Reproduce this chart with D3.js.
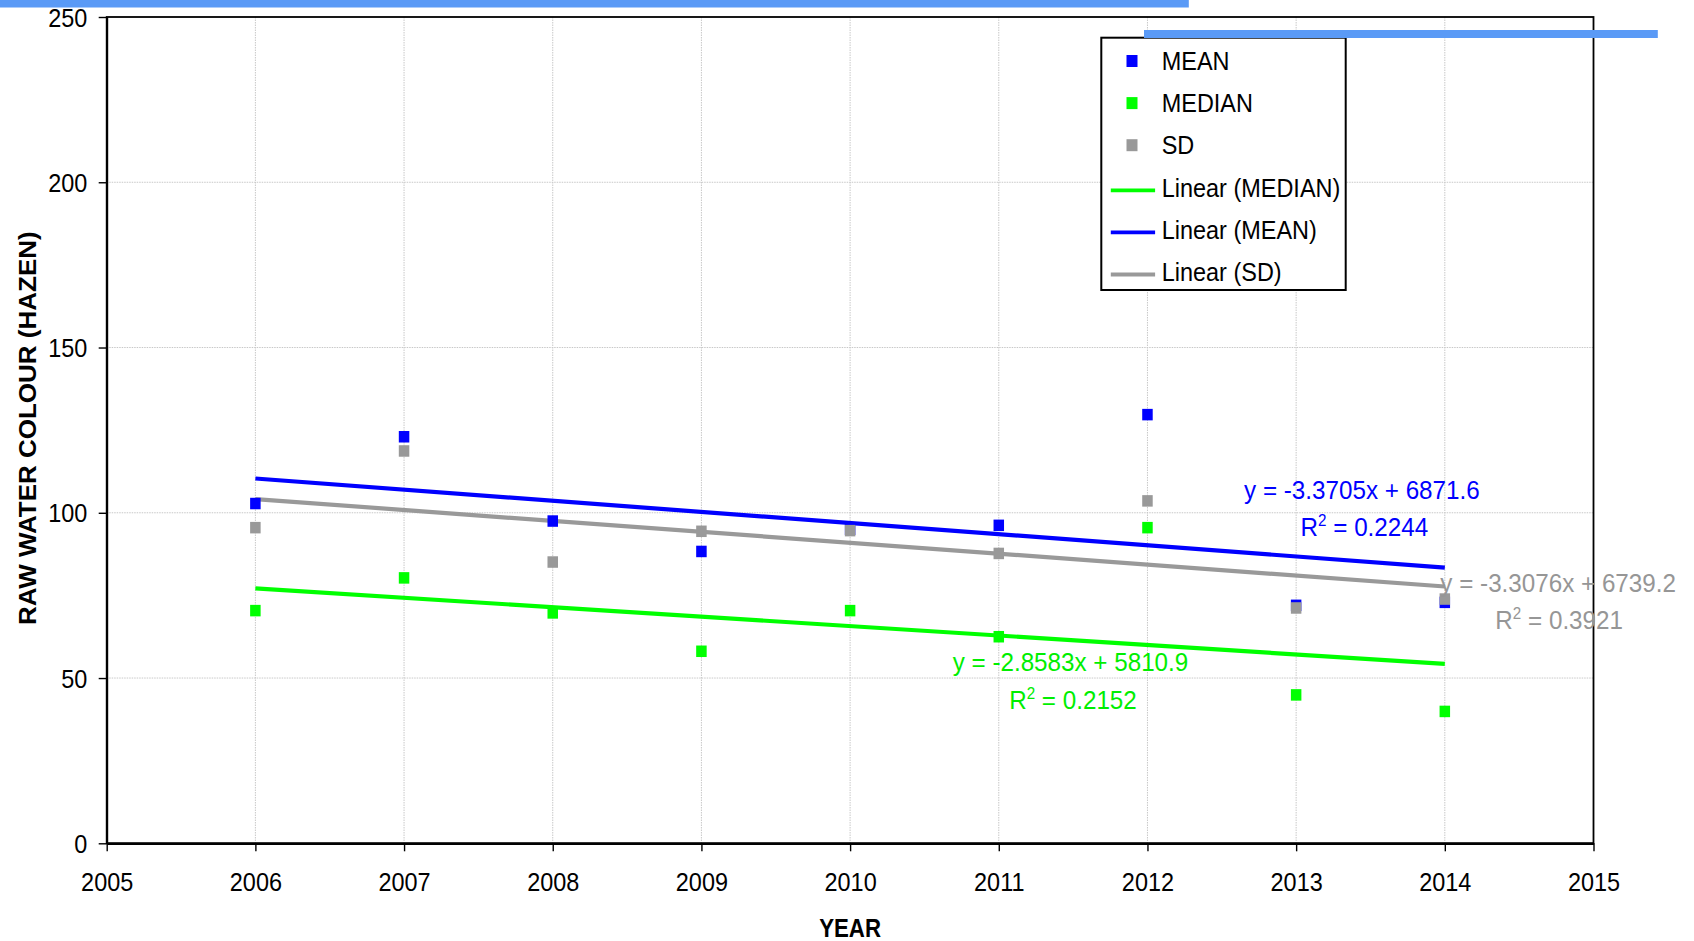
<!DOCTYPE html>
<html>
<head>
<meta charset="utf-8">
<script src="https://cdn.jsdelivr.net/npm/d3@7"></script>
<style>
  html, body { margin: 0; padding: 0; background: #ffffff; }
  svg { display: block; }
  text { font-family: "Liberation Sans", Arial, sans-serif; }
</style>
</head>
<body>
<svg id="chart" width="1694" height="941"></svg>
<script>
// ---------- data ----------
const years = [2006, 2007, 2008, 2009, 2010, 2011, 2012, 2013, 2014];
const meanValues = [102.8, 123.0, 97.5, 88.3, 95.0, 96.2, 129.7, 72.0, 72.9];
const medianValues = [70.4, 80.3, 69.7, 58.1, 70.4, 62.5, 95.5, 44.9, 39.9];
const sdValues = [95.5, 118.7, 85.1, 94.4, 94.6, 87.7, 103.6, 71.2, 73.9];

const seriesNames = ["MEAN", "MEDIAN", "SD"];
const trendNames = ["Linear (MEDIAN)", "Linear (MEAN)", "Linear (SD)"];
// trendline coefficients as printed on the chart
const trendSlopes = [-3.3705, -2.8583, -3.3076];       // MEAN, MEDIAN, SD
const trendIntercepts = [6871.6, 5810.9, 6739.2];
const equationLabels = ["y = -3.3705x + 6871.6", "y = -2.8583x + 5810.9", "y = -3.3076x + 6739.2"];
const r2Labels = ["0.2244", "0.2152", "0.3921"];

const xTicks = [2005, 2006, 2007, 2008, 2009, 2010, 2011, 2012, 2013, 2014, 2015];
const yTicks = [0, 50, 100, 150, 200, 250];
const xTitle = "YEAR";
const yTitle = "RAW WATER COLOUR (HAZEN)";

// ---------- layout / style ----------
const W = 1694, H = 941;
const plot = { left: 106.7, right: 1593.5, top: 17, bottom: 843.3 };
const colors = { MEAN: "#0000ff", MEDIAN: "#00ff00", SD: "#999999" };
const textColors = { MEAN: "#0000ff", MEDIAN: "#00ee00", SD: "#969696" };
const FS = 25.5, SX = 0.92;   // font size and horizontal condensation

const svg = d3.select("#chart");
svg.append("rect").attr("width", W).attr("height", H).attr("fill", "#fff");

const x = d3.scaleLinear().domain([2005, 2015]).range([plot.left, plot.right]);
const y = d3.scaleLinear().domain([0, 250]).range([plot.bottom, plot.top]);

// gridlines
const grid = svg.append("g");
grid.selectAll("line.v").data(xTicks.slice(1, -1)).join("line")
  .attr("x1", d => x(d)).attr("x2", d => x(d))
  .attr("y1", plot.top).attr("y2", plot.bottom)
  .attr("stroke", "#c8c8c8").attr("stroke-width", 1).attr("stroke-dasharray", "1.5,1");
grid.selectAll("line.h").data(yTicks.slice(1, -1)).join("line")
  .attr("x1", plot.left).attr("x2", plot.right)
  .attr("y1", d => y(d)).attr("y2", d => y(d))
  .attr("stroke", "#c8c8c8").attr("stroke-width", 1).attr("stroke-dasharray", "1.5,1");

// plot frame
svg.append("rect")
  .attr("x", plot.left).attr("y", plot.top)
  .attr("width", plot.right - plot.left).attr("height", plot.bottom - plot.top)
  .attr("fill", "none").attr("stroke", "#000").attr("stroke-width", 1.8);

// axes
const xAxis = svg.append("g").attr("transform", `translate(0,${plot.bottom})`)
  .call(d3.axisBottom(x).tickValues(xTicks).tickFormat(d3.format("d")).tickSize(8).tickSizeOuter(0));
xAxis.select(".domain").attr("stroke", "#000").attr("stroke-width", 2.4);
xAxis.selectAll(".tick line").attr("stroke", "#000").attr("stroke-width", 1.4);
xAxis.selectAll(".tick text")
  .attr("y", 47.4).attr("dy", 0)
  .attr("font-size", FS).attr("fill", "#000")
  .attr("transform", `scale(${SX},1)`);

const yAxis = svg.append("g").attr("transform", `translate(${plot.left},0)`)
  .call(d3.axisLeft(y).tickValues(yTicks).tickSize(8).tickSizeOuter(0));
yAxis.select(".domain").attr("stroke", "#000").attr("stroke-width", 2);
yAxis.selectAll(".tick line").attr("stroke", "#000").attr("stroke-width", 1.4);
yAxis.selectAll(".tick text")
  .attr("x", -19.4 / SX).attr("dy", "0.36em")
  .attr("font-size", FS).attr("fill", "#000")
  .attr("transform", `scale(${SX},1)`);

// axis titles
svg.append("text")
  .attr("transform", `translate(${(plot.left + plot.right) / 2},936.5) scale(${SX * 0.95},1)`)
  .attr("text-anchor", "middle").attr("font-size", FS).attr("font-weight", "bold")
  .attr("fill", "#000").text(xTitle);
svg.append("text")
  .attr("transform", `translate(35.5,${(plot.top + plot.bottom) / 2 - 2}) scale(${SX},1) rotate(-90)`)
  .attr("text-anchor", "middle").attr("font-size", 26).attr("font-weight", "bold")
  .attr("fill", "#000").text(yTitle);

// trendlines
const seriesValues = { MEAN: meanValues, MEDIAN: medianValues, SD: sdValues };
const trendData = seriesNames.map((name, i) => ({
  name,
  pts: [years[0], years[years.length - 1]].map(yr => [yr, trendSlopes[i] * yr + trendIntercepts[i]])
}));
const lineGen = d3.line().x(d => x(d[0])).y(d => y(d[1]));
svg.append("g").selectAll("path").data(trendData).join("path")
  .attr("d", d => lineGen(d.pts))
  .attr("fill", "none")
  .attr("stroke", d => colors[d.name])
  .attr("stroke-width", 4.2);

// markers (MEAN, MEDIAN, SD order so SD sits on top)
const MS = 10.5;
seriesNames.forEach(name => {
  svg.append("g").selectAll("rect")
    .data(years.map((yr, i) => [yr, seriesValues[name][i]]))
    .join("rect")
    .attr("x", d => x(d[0]) - MS / 2)
    .attr("y", d => y(d[1]) - (MS + 1) / 2)
    .attr("width", MS).attr("height", MS + 1)
    .attr("fill", colors[name]);
});

// equation labels
const EQSX = 0.95;
const eqPos = [
  { eq: [2012.65, 104.2], r2: [2013.03, 93.1] },  // MEAN
  { eq: [2010.69, 52.1], r2: [2011.07, 40.6] },   // MEDIAN
  { eq: [2013.97, 76.0], r2: [2014.34, 64.7] }    // SD
];
seriesNames.forEach((name, i) => {
  const p = eqPos[i];
  svg.append("text")
    .attr("transform", `translate(${x(p.eq[0])},${y(p.eq[1])}) scale(${EQSX},1)`)
    .attr("font-size", FS).attr("fill", textColors[name])
    .text(equationLabels[i]);
  const t = svg.append("text")
    .attr("transform", `translate(${x(p.r2[0])},${y(p.r2[1])}) scale(${EQSX},1)`)
    .attr("font-size", FS).attr("fill", textColors[name]);
  t.append("tspan").text("R");
  t.append("tspan").attr("font-size", 16).attr("dy", -10).text("2");
  t.append("tspan").attr("dy", 10).text(" = " + r2Labels[i]);
});

// legend
const lg = svg.append("g");
lg.append("rect").attr("x", 1101.3).attr("y", 37.7).attr("width", 244.4).attr("height", 252.3)
  .attr("fill", "#fff").attr("stroke", "#000").attr("stroke-width", 2);
const legendItems = [
  ...seriesNames.map(n => ({ label: n, type: "marker", color: colors[n] })),
  { label: trendNames[0], type: "line", color: colors.MEDIAN },
  { label: trendNames[1], type: "line", color: colors.MEAN },
  { label: trendNames[2], type: "line", color: colors.SD }
];
legendItems.forEach((it, i) => {
  const cy = 61 + i * 42.1;
  if (it.type === "marker") {
    lg.append("rect").attr("x", 1126.5).attr("y", cy - 6).attr("width", 11).attr("height", 12)
      .attr("fill", it.color);
  } else {
    lg.append("line").attr("x1", 1110.8).attr("x2", 1155.1).attr("y1", cy + 3).attr("y2", cy + 3)
      .attr("stroke", it.color).attr("stroke-width", 3.8);
  }
  lg.append("text")
    .attr("transform", `translate(1161.7,${cy + 9.2}) scale(${SX},1)`)
    .attr("font-size", FS).attr("fill", "#000").text(it.label);
});

// decorative blue bars at the top of the picture
svg.append("rect").attr("x", 0).attr("y", 0).attr("width", 1188.8).attr("height", 7.5).attr("fill", "#5a9af6");
svg.append("rect").attr("x", 1144).attr("y", 30).attr("width", 513.8).attr("height", 8).attr("fill", "#5a9af6");
</script>
</body>
</html>
